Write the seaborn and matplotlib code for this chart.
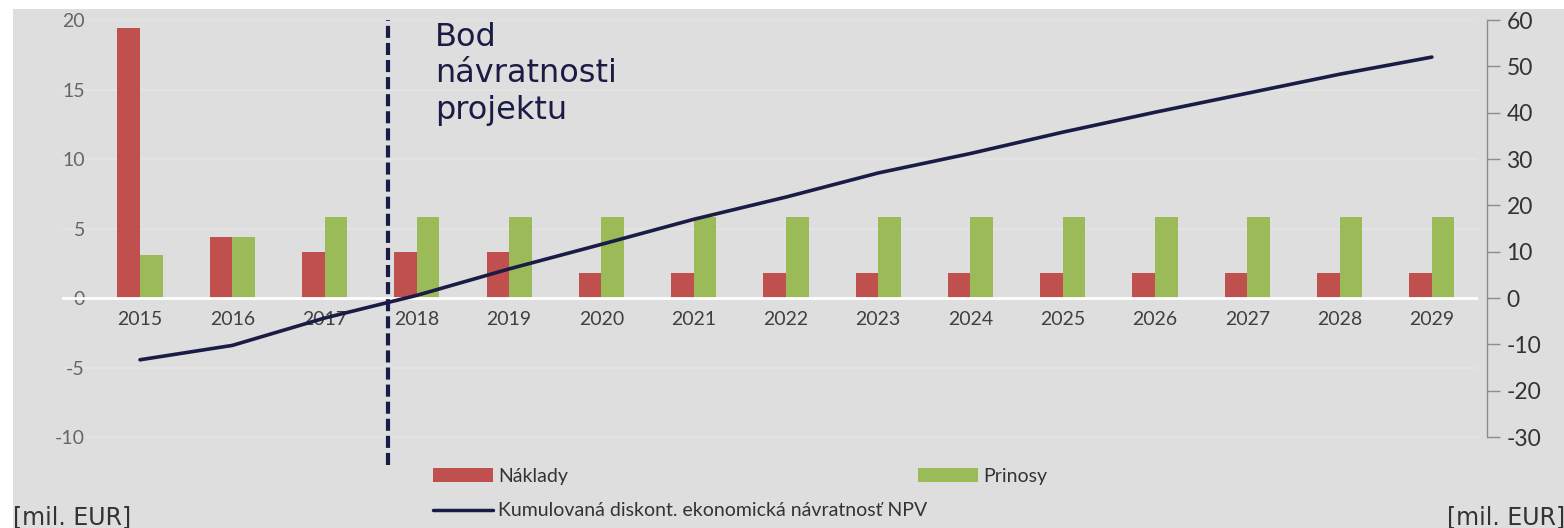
import numpy as np
import pandas as pd
import matplotlib
matplotlib.use("Agg")
import matplotlib.pyplot as plt
from matplotlib.patches import Patch, Rectangle
from matplotlib.lines import Line2D
import seaborn as sns

# data
years = [str(y) for y in range(2015, 2030)]
naklady = [19.4, 4.4, 3.3, 3.3, 3.3, 1.8, 1.8, 1.8, 1.8, 1.8, 1.8, 1.8, 1.8, 1.8, 1.8]
prinosy = [3.1, 4.4, 5.85, 5.85, 5.85, 5.85, 5.85, 5.85, 5.85, 5.85, 5.85, 5.85, 5.85, 5.85, 5.85]
npv = [-13.3, -10.2, -4.3, 0.6, 6.3, 11.6, 17.0, 21.8, 27.0, 31.2, 35.8, 40.1, 44.2, 48.3, 52.0]
payback_pos = 2.69

left_ticks = [20, 15, 10, 5, 0, -5, -10]
right_ticks = [60, 50, 40, 30, 20, 10, 0, -10, -20, -30]

RED = "#c0504d"
GREEN = "#9bbb59"
NAVY = "#1b1c45"
BG = "#dedede"

sns.set_theme(style="white")
plt.rcParams["font.family"] = ["Lato", "DejaVu Sans"]

df = pd.DataFrame({
    "rok": years * 2,
    "hodnota": naklady + prinosy,
    "serie": ["Náklady"] * len(years) + ["Prinosy"] * len(years),
})

fig = plt.figure(figsize=(15.64, 5.28), dpi=100, facecolor="white")
fig.patches.append(Rectangle((13 / 1564, 0), 1, 1 - 9 / 528, transform=fig.transFigure,
                             facecolor=BG, edgecolor="none", zorder=-10))

ax = fig.add_axes([61.6 / 1564, 63 / 528, (1478 - 61.6) / 1564, 445 / 528])
ax.set_facecolor("none")

sns.barplot(data=df, x="rok", y="hodnota", hue="serie", palette=[RED, GREEN],
            width=0.49, gap=0, saturation=1, legend=False, ax=ax, zorder=2,
            linewidth=0, edgecolor="none")

ax.set_xlim(-0.85, 14.5)
ax.set_ylim(-12, 20)
ax.set_yticks(left_ticks)
ax.set_yticklabels([str(t) for t in left_ticks])
ax.set_xlabel("")
ax.set_ylabel("")
for t in left_ticks:
    ax.axhline(t, color="#e3e3e3", lw=1.5, zorder=0.5)
ax.axhline(0, color="white", lw=2, zorder=3)

for s in ax.spines.values():
    s.set_visible(False)
ax.spines["bottom"].set_position(("data", 0))
ax.tick_params(axis="x", length=0, pad=9, labelsize=14, labelcolor="#404040")
ax.tick_params(axis="y", length=0, pad=-16.8, labelsize=14, labelcolor="#666666")

ax.axvline(payback_pos, color=NAVY, lw=3, dashes=(2.9, 1.2), zorder=4)
ax.text(3.2, 19.85, "Bod\nnávratnosti\nprojektu", fontsize=23, color=NAVY,
        family="DejaVu Sans", va="top", ha="left", linespacing=1.22, zorder=5)

ax2 = ax.twinx()
sns.lineplot(x=np.arange(len(years)), y=npv, color=NAVY, lw=2.6, ax=ax2)
ax2.set_ylim(-36, 60)
ax2.set_yticks(right_ticks)
ax2.set_yticklabels([str(t) for t in right_ticks])
for k in ["top", "left", "bottom"]:
    ax2.spines[k].set_visible(False)
ax2.spines["right"].set_visible(True)
ax2.spines["right"].set_color("#8c8c8c")
ax2.spines["right"].set_linewidth(1)
ax2.spines["right"].set_bounds(-30, 60)
ax2.spines["right"].set_position(("outward", 6.5))
ax2.tick_params(axis="y", direction="out", length=9, width=1, color="#8c8c8c",
                pad=5, labelsize=16.5, labelcolor="#333333")
ax2.set_xlim(-0.85, 14.5)

# legend, laid out like the original two-column excel legend
h_red = Patch(facecolor=RED, edgecolor="none")
h_green = Patch(facecolor=GREEN, edgecolor="none")
h_line = Line2D([], [], color=NAVY, lw=2.5)
leg_kw = dict(frameon=False, fontsize=14, handlelength=3.1, handleheight=0.7,
              handletextpad=0.26, labelspacing=0.9, borderpad=0, borderaxespad=0,
              labelcolor="#333333")
fig.legend([h_red, h_line], ["Náklady", "Kumulovaná diskont. ekonomická návratnosť NPV"],
           loc="upper left", bbox_to_anchor=(433 / 1564, 1 - 468 / 528), **leg_kw)
fig.legend([h_green], ["Prinosy"],
           loc="upper left", bbox_to_anchor=(918 / 1564, 1 - 468 / 528), **leg_kw)

fig.text(13 / 1564, 4 / 528, "[mil. EUR]", fontsize=17, color="#333333",
         family="DejaVu Sans", ha="left", va="baseline")
fig.text(1565 / 1564, 4 / 528, "[mil. EUR]", fontsize=17, color="#333333",
         family="DejaVu Sans", ha="right", va="baseline")

fig.savefig("out.png", dpi=100, facecolor=fig.get_facecolor())
